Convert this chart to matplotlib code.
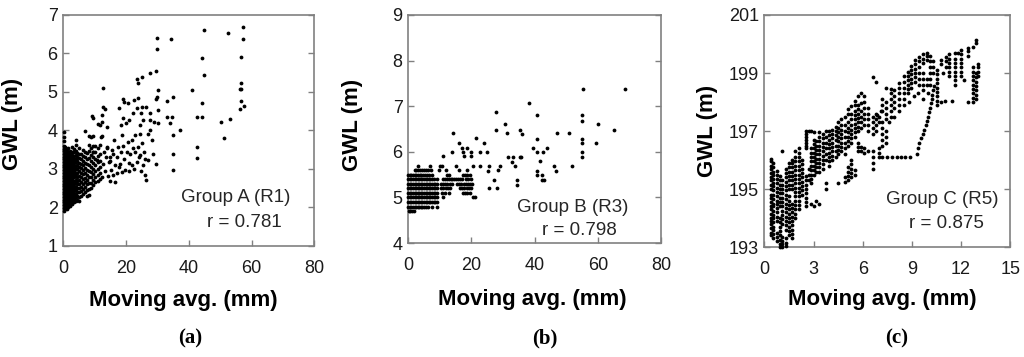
import matplotlib.pyplot as plt

plt.rcParams["font.family"] = ["Liberation Sans", "DejaVu Sans"]

# ---------------- (a) Group A (R1) ----------------
# dense part: (moving avg, [GWL values]) read column by column
a_cols = [
    (0.1, [1.92, 1.99, 2.06, 2.13, 2.2, 2.27, 2.34, 2.41, 2.48, 2.55, 2.62, 2.69, 2.76, 2.83,
           2.9, 2.97, 3.04, 3.11, 3.18, 3.25, 3.32, 3.39, 3.46, 3.53, 3.6, 3.72, 3.84, 3.97]),
    (0.6, [1.95, 2.02, 2.09, 2.16, 2.23, 2.3, 2.37, 2.44, 2.51, 2.58, 2.65, 2.72, 2.79, 2.86,
           2.93, 3.0, 3.07, 3.14, 3.21, 3.28, 3.35, 3.42, 3.5, 3.58]),
    (1.1, [1.97, 2.04, 2.11, 2.18, 2.25, 2.32, 2.39, 2.46, 2.53, 2.6, 2.67, 2.74, 2.81, 2.88,
           2.95, 3.02, 3.09, 3.16, 3.23, 3.3, 3.37, 3.45, 3.52]),
    (1.6, [2.02, 2.09, 2.16, 2.23, 2.3, 2.37, 2.44, 2.51, 2.58, 2.65, 2.72, 2.79, 2.86, 2.93,
           3.0, 3.07, 3.14, 3.21, 3.28, 3.36, 3.44, 3.55]),
    (2.1, [2.05, 2.12, 2.19, 2.26, 2.33, 2.4, 2.47, 2.54, 2.61, 2.68, 2.75, 2.82, 2.89, 2.96,
           3.03, 3.1, 3.17, 3.24, 3.31, 3.4, 3.48]),
    (2.7, [2.1, 2.17, 2.24, 2.31, 2.38, 2.45, 2.52, 2.59, 2.66, 2.73, 2.8, 2.87, 2.94, 3.01,
           3.08, 3.15, 3.22, 3.29, 3.36, 3.45, 3.56]),
    (3.3, [2.14, 2.22, 2.3, 2.38, 2.46, 2.54, 2.62, 2.7, 2.78, 2.86, 2.94, 3.02, 3.1, 3.18,
           3.26, 3.34, 3.44, 3.52]),
    (3.9, [2.18, 2.27, 2.36, 2.45, 2.54, 2.63, 2.72, 2.81, 2.9, 2.99, 3.08, 3.17, 3.26, 3.36,
           3.48, 3.62, 3.76]),
    (4.5, [2.2, 2.3, 2.4, 2.5, 2.6, 2.7, 2.8, 2.9, 3.0, 3.1, 3.2, 3.3, 3.42]),
    (5.1, [2.17, 2.28, 2.39, 2.5, 2.61, 2.72, 2.83, 2.94, 3.05, 3.16, 3.28, 3.4, 3.55]),
    (5.7, [2.3, 2.42, 2.54, 2.66, 2.78, 2.9, 3.02, 3.14, 3.26, 3.38]),
    (6.3, [2.35, 2.48, 2.6, 2.73, 2.86, 2.98, 3.1, 3.22, 3.35, 3.5]),
    (6.9, [2.4, 2.52, 2.65, 2.77, 2.9, 3.03, 3.16, 3.3, 3.45, 3.98]),
    (7.5, [2.3, 2.45, 2.6, 2.72, 2.85, 2.98, 3.12, 3.25, 3.42]),
    (8.1, [2.32, 2.48, 2.63, 2.8, 2.95, 3.1, 3.28, 3.48, 3.62, 3.85]),
    (8.7, [2.5, 2.63, 2.78, 2.92, 3.06, 3.2, 3.36, 3.55, 3.82]),
    (9.4, [2.58, 2.72, 2.86, 3.0, 3.15, 3.3, 3.45, 3.6, 3.86]),
    (10.2, [2.65, 2.8, 2.95, 3.1, 3.25, 3.45, 3.6]),
    (11.0, [2.7, 2.85, 3.0, 3.18, 3.35, 3.55, 4.18]),
    (11.8, [2.75, 2.9, 3.05, 3.22, 3.4, 3.62, 4.14]),
]
# scattered points
a_x = [44.9, 52.6, 57.4, 57.4, 44.3, 56.5, 44.9, 56.5, 56.3, 56.8,
       40.9, 44.3, 56.8, 57.7, 56.3, 42.7, 44.3, 50.3, 53.1, 51.3,
       42.7, 42.7, 29.8, 34.3, 29.8, 29.4, 27.6, 25.0, 23.4, 23.9,
       12.8, 30.3, 19.1, 19.4, 22.5, 23.9, 35.1, 33.2, 29.8, 29.4,
       17.9, 20.5, 23.6, 26.4, 27.6, 25.2, 30.3, 12.8, 13.3, 9.0,
       9.4, 12.5, 12.5, 19.1, 20.9, 22.3, 24.9, 27.6, 30.3, 33.2,
       34.8, 34.0, 13.8, 20.0, 37.2, 35.1, 35.1, 35.1, 29.4, 28.5,
       28.2, 29.0, 24.4, 25.5, 18.4,
       12.5, 12.8, 13.0, 13.3, 13.6, 13.8, 14.1, 14.5, 14.9, 14.9,
       15.3, 15.6, 15.9, 15.9, 16.4, 16.6, 17.0, 17.2, 17.5, 17.8,
       18.1, 18.4, 18.6, 18.8, 19.2, 19.7, 20.2, 20.5, 20.8, 21.3,
       21.8, 21.8, 22.3, 22.8, 22.5, 23.4, 23.9, 24.1, 24.4, 24.7,
       25.0, 25.5, 25.8, 26.0, 26.4, 26.2, 27.1, 27.1, 27.6, 12.5,
       16.2, 19.0, 21.0, 23.0, 24.5, 11.9, 10.6, 9.6, 14.0, 15.0]
a_y = [6.61, 6.54, 6.70, 6.37, 5.87, 5.90, 5.44, 5.23, 5.08, 5.08,
       5.05, 4.72, 4.77, 4.64, 4.56, 4.36, 4.36, 4.23, 4.30, 3.81,
       3.58, 3.29, 6.39, 6.37, 6.11, 5.55, 5.50, 5.40, 5.35, 5.24,
       5.10, 5.05, 4.81, 4.75, 4.79, 4.84, 4.88, 4.77, 4.86, 4.81,
       4.58, 4.71, 4.58, 4.62, 4.45, 4.62, 4.52, 4.62, 4.55, 4.38,
       4.32, 4.39, 4.23, 4.32, 4.27, 4.45, 4.46, 4.26, 4.20, 4.36,
       4.36, 4.19, 4.08, 4.19, 4.01, 3.88, 3.40, 2.97, 3.14, 3.40,
       3.75, 4.22, 4.14, 4.27, 4.14,
       2.78, 3.12, 3.45, 2.95, 3.30, 3.58, 2.82, 3.18, 3.32, 2.70,
       2.98, 3.50, 3.40, 2.84, 2.66, 3.10, 2.90, 3.30, 3.58, 3.05,
       3.14, 3.45, 3.88, 2.92, 3.25, 2.97, 3.45, 3.70, 3.15, 3.40,
       3.10, 3.75, 3.55, 3.88, 3.00, 3.19, 3.58, 3.30, 3.36, 2.95,
       3.68, 3.10, 3.45, 2.84, 2.71, 3.25, 3.23, 3.92, 4.01, 3.85,
       3.75, 3.60, 2.95, 3.45, 3.90, 3.84, 3.23, 3.45, 3.55, 3.22]

# ---------------- (b) Group B (R3) ----------------
# dense band: (GWL level, [moving avg values]) read row by row
b_rows = [
    (5.7, [3.0, 6.9, 10.0, 10.6]),
    (5.6, [2.0, 2.6, 3.2, 3.8, 4.5, 5.1, 5.7, 6.4, 7.3, 9.6, 11.9, 16.1, 18.6]),
    (5.5, [0.0, 0.5, 1.0, 1.5, 2.0, 2.5, 3.0, 3.6, 4.1, 4.7, 5.3, 5.9, 6.6, 7.4,
           12.2, 12.9, 17.3, 17.9, 18.6, 19.4]),
    (5.4, [0.0, 0.5, 1.0, 1.5, 2.0, 2.5, 3.0, 3.5, 4.0, 4.5, 5.0, 5.5, 6.0, 6.5, 7.0, 7.6,
           8.3, 9.1, 11.0, 11.6, 12.2, 12.8, 13.4, 14.0, 14.6, 15.2, 15.8, 16.4, 17.0,
           18.3, 19.0, 19.7]),
    (5.3, [0.0, 0.5, 1.0, 1.5, 2.0, 2.5, 3.0, 3.5, 4.0, 4.5, 5.0, 5.5, 6.0, 6.5, 7.0, 7.5,
           8.0, 8.5, 9.0, 10.3, 11.0, 11.7, 12.4, 13.1, 13.8, 15.4, 16.1, 16.8, 17.5,
           18.2, 18.9, 19.6, 20.3]),
    (5.2, [0.0, 0.5, 1.0, 1.5, 2.0, 2.5, 3.0, 3.5, 4.0, 4.5, 5.0, 5.5, 6.0, 6.5, 7.0, 7.5,
           8.0, 8.5, 9.0, 10.4, 11.1, 11.8, 12.5, 13.2, 16.4, 17.1, 17.8, 18.5, 19.2, 19.9]),
    (5.1, [0.0, 0.5, 1.0, 1.5, 2.0, 2.5, 3.0, 3.5, 4.0, 4.5, 5.0, 5.5, 6.0, 6.5, 7.0, 7.5,
           8.0, 8.5, 9.0, 10.6, 11.5, 13.0, 17.2, 17.9, 18.6, 19.4]),
    (5.0, [0.0, 0.5, 1.0, 1.5, 2.0, 2.5, 3.0, 3.5, 4.0, 4.5, 5.0, 5.5, 6.0, 6.5, 7.0, 7.5,
           8.0, 8.5, 9.0, 11.0, 20.6, 21.0]),
    (4.9, [0.0, 0.5, 1.0, 1.5, 2.0, 2.5, 3.0, 3.5, 4.0, 4.5, 5.0, 5.5, 6.0, 6.5, 7.0, 7.5,
           8.0, 8.6, 9.2]),
    (4.8, [0.0, 0.5, 1.0, 1.5, 2.0, 2.5, 3.0, 3.5, 4.0, 4.5, 5.0, 5.5, 6.2, 7.4, 9.0]),
    (4.7, [0.1, 0.6, 1.1, 1.9]),
]
b_x = [55.4, 68.5, 38.3, 27.7, 40.8, 54.9, 55.1, 30.6, 60.0, 27.7,
       35.3, 35.9, 65.1, 14.2, 31.3, 47.2, 50.8, 21.4, 40.8, 54.9,
       55.1, 59.4, 16.1, 24.0, 24.8, 39.6, 44.0, 16.9, 18.5, 17.4,
       19.7, 13.7, 20.0, 17.7, 11.1, 31.6, 33.2, 32.7, 35.7, 35.3,
       40.8, 42.7, 54.9, 54.9, 41.6, 46.1, 46.9, 51.8, 40.8, 40.8,
       42.2, 42.2, 42.9, 15.0, 22.7, 25.3, 29.0, 28.5, 33.8, 34.3,
       34.3, 25.6, 28.2, 20.4, 25.6, 27.1, 22.7]
b_y = [7.37, 7.37, 7.08, 6.88, 6.80, 6.80, 6.67, 6.60, 6.61, 6.48,
       6.48, 6.39, 6.48, 6.41, 6.41, 6.41, 6.41, 6.30, 6.29, 6.29,
       6.20, 6.20, 6.20, 6.19, 5.99, 6.08, 6.08, 6.08, 6.08, 5.99,
       5.90, 5.99, 5.99, 5.90, 5.90, 5.88, 5.88, 5.78, 5.88, 5.89,
       5.99, 5.99, 5.99, 5.89, 5.79, 5.69, 5.59, 5.69, 5.59, 5.49,
       5.49, 5.39, 5.39, 5.68, 5.70, 5.57, 5.70, 5.61, 5.70, 5.39,
       5.28, 5.20, 5.20, 5.68, 5.70, 5.39, 5.99]

# ---------------- (c) Group C (R5) ----------------
c_cols = [
    (0.40, [193.4, 193.5, 193.65, 193.8, 193.9, 194.0, 194.15, 194.3, 194.4, 194.55, 194.7,
            194.8, 195.0, 195.15, 195.3, 195.4, 195.55, 195.7, 195.8, 195.95, 196.05]),
    (0.55, [193.3, 193.45, 193.6, 193.7, 193.85, 194.0, 194.1, 194.25, 194.4, 194.5, 194.65,
            194.8, 194.95, 195.1, 195.2, 195.35, 195.5, 195.6, 195.75, 195.9]),
    (0.75, [193.2, 193.35, 193.5, 193.9, 194.05, 194.2, 194.35, 194.5, 194.6, 194.75, 194.9,
            195.05, 195.2, 195.35, 195.5, 195.62]),
    (0.95, [193.0, 193.1, 193.25, 193.4, 193.55, 193.7, 193.85, 194.0, 194.4, 194.55, 194.7,
            194.85, 195.0, 195.15, 195.3, 195.45]),
    (1.10, [193.0, 193.1, 193.2, 193.35, 193.8, 193.95, 194.1, 194.25, 194.4, 194.55, 194.7,
            194.85, 195.0, 195.15, 195.3, 196.3]),
    (1.30, [193.05, 193.15, 193.3, 193.6, 193.75, 193.9, 194.05, 194.2, 194.35, 194.5,
            194.65, 194.8, 194.95, 195.1, 195.25, 195.4, 195.55, 195.7]),
    (1.50, [193.4, 193.55, 193.7, 193.85, 194.0, 194.15, 194.3, 194.45, 194.6, 194.75, 195.0,
            195.15, 195.3, 195.45, 195.6, 195.75, 195.9]),
    (1.70, [193.3, 193.45, 193.6, 193.75, 193.9, 194.05, 194.2, 194.35, 194.5, 195.0, 195.15,
            195.3, 195.45, 195.6, 195.75, 195.9, 196.0]),
    (1.90, [194.0, 194.15, 194.3, 194.45, 194.6, 194.75, 194.9, 195.05, 195.2, 195.35, 195.5,
            195.65, 195.8, 195.95, 196.1, 196.3]),
    (2.10, [194.3, 194.45, 194.6, 194.75, 194.9, 195.05, 195.2, 195.35, 195.5, 195.65, 195.8,
            195.95, 196.1, 196.25, 196.4]),
    (2.30, [194.8, 194.95, 195.1, 195.25, 195.4, 195.55, 195.7, 195.85, 196.0]),
    (2.55, [194.4, 194.55, 194.7, 194.85, 195.0, 195.15, 195.3, 195.45, 196.4, 196.5, 196.6,
            196.7, 196.8, 196.9, 197.0]),
    (2.70, [197.0, 195.3, 195.5, 195.7]),
    (2.85, [197.0, 194.5, 195.2, 195.35, 195.5, 195.65, 195.8, 195.95, 196.1, 196.25, 196.4]),
    (3.00, [196.95, 194.4, 195.5, 195.65, 195.8, 195.95, 196.1, 196.25, 196.4, 196.55, 196.7]),
    (3.15, [194.6, 195.6, 195.75, 195.9, 196.05, 196.2, 196.35, 196.5, 196.65]),
    (3.35, [194.5, 195.6, 195.75, 195.9, 196.05, 196.2, 196.35, 196.5, 196.65, 196.8, 196.95]),
    (3.60, [195.7, 195.85, 196.0, 196.15, 196.3, 196.45, 196.6, 196.75, 196.9]),
    (3.75, [195.0, 195.2, 196.0, 196.2, 196.4, 196.6, 196.8, 197.0]),
    (3.95, [195.8, 195.95, 196.1, 196.25, 196.4, 196.55, 196.7, 196.85, 197.0]),
    (4.15, [196.0, 196.15, 196.3, 196.45, 196.6, 196.75, 196.9, 197.05]),
    (4.35, [196.1, 196.3, 196.5, 196.7, 196.85, 197.0, 197.15]),
    (4.50, [195.2, 196.2, 196.35, 196.5, 196.65, 196.8, 196.95, 197.1, 197.3]),
    (4.70, [196.3, 196.45, 196.6, 196.75, 196.9, 197.05, 197.2, 197.4]),
    (4.90, [195.25, 195.4, 196.2, 196.4, 196.6, 196.8, 197.0, 197.2, 197.5]),
    (5.10, [195.3, 195.45, 195.6, 195.75, 196.5, 196.65, 196.8, 196.95, 197.1, 197.3, 197.6,
            197.75]),
    (5.30, [195.4, 195.55, 195.7, 195.85, 196.0, 196.6, 196.75, 196.9, 197.05, 197.2, 197.4,
            197.6, 197.85]),
    (5.50, [195.5, 195.65, 196.8, 196.95, 197.1, 197.25, 197.4, 197.55, 197.7, 197.9, 198.05]),
    (5.70, [196.3, 196.45, 196.6, 197.0, 197.15, 197.3, 197.45, 197.6, 197.75, 197.9, 198.2]),
    (5.90, [196.3, 196.45, 197.1, 197.3, 197.5, 197.7, 197.95, 198.3]),
    (6.10, [196.25, 196.4, 197.2, 197.4, 197.6, 197.8, 198.0, 198.2]),
    (6.35, [196.3, 197.0, 197.2, 197.4, 197.6, 197.8]),
    (6.60, [195.7, 195.9, 196.1, 196.3, 196.9, 197.1, 197.3, 197.5, 198.85]),
    (6.80, [197.0, 197.2, 197.4, 197.6, 198.7]),
    (7.00, [196.1, 196.25, 196.4, 197.3, 197.5]),
    (7.20, [196.5, 196.7, 196.9, 197.1, 197.3, 197.7, 197.9, 198.1]),
    (7.40, [196.6, 196.8, 197.0, 197.4, 197.6, 197.8, 198.0, 198.5]),
    (7.70, [197.5, 197.7, 197.9, 198.1, 198.3, 198.45]),
    (7.90, [197.8, 198.0, 198.2, 198.4]),
    (8.20, [197.9, 198.1, 198.3, 198.5, 198.65]),
    (8.50, [198.1, 198.3, 198.5, 198.7, 198.9]),
    (8.75, [198.3, 198.45, 198.6, 198.75, 198.9, 199.05]),
    (8.95, [198.5, 198.65, 198.8, 198.95, 199.1, 199.25]),
    (9.20, [198.7, 198.85, 199.0, 199.15, 199.3, 199.45]),
    (9.45, [198.6, 198.8, 199.0, 199.2, 199.4, 199.55]),
    (9.70, [198.4, 198.6, 198.8, 199.0, 199.35, 199.5, 199.65]),
    (9.90, [198.6, 198.8, 199.45, 199.6, 199.7]),
    (10.10, [198.6, 198.8, 199.0, 199.2, 199.4, 199.6]),
    (10.30, [199.0, 199.2, 199.4]),
    (10.55, [197.9, 198.05, 198.2, 198.35, 198.5, 198.65, 198.8, 198.95, 199.1]),
    (10.80, [198.0, 199.3, 199.45]),
    (11.05, [199.4, 199.55]),
    (11.26, [198.9, 199.05, 199.2, 199.35, 199.5, 199.65]),
    (11.45, [198.05]),
    (11.60, [198.6, 198.75, 198.9, 199.05, 199.2, 199.35, 199.5, 199.7]),
    (11.80, [199.7]),
    (12.00, [198.9, 199.05, 199.2, 199.35, 199.5, 199.65, 199.8]),
    (12.15, [198.75]),
    (12.45, [198.0, 199.6, 199.75, 199.85]),
    (12.70, [198.0, 198.15, 198.3, 198.45, 198.6, 198.75, 198.9, 199.05, 199.2, 199.9]),
    (12.90, [198.1, 198.25, 198.4, 198.55, 198.7, 198.85, 199.0, 200.05, 200.15]),
    (13.05, [198.9, 199.05, 199.2, 199.3]),
]
c_x = [7.2, 7.5, 7.8, 8.1, 8.35, 8.6, 8.9, 9.3, 9.35, 9.45,
       9.55, 9.65, 9.75, 9.85, 9.95, 10.0, 10.05, 10.1, 10.15, 10.2,
       10.25, 10.3, 10.35, 6.9, 7.1, 7.6, 7.9, 8.2, 8.5, 8.8,
       9.1, 9.4, 9.7, 10.0, 11.0, 10.9, 11.1]
c_y = [196.1, 196.1, 196.1, 196.12, 196.1, 196.1, 196.12, 196.2, 196.4, 196.6,
       196.75, 196.9, 197.05, 197.2, 197.35, 197.5, 197.65, 197.8, 197.95, 198.1,
       198.25, 198.4, 198.55, 197.55, 197.7, 197.3, 197.5, 197.7, 197.9, 198.0,
       198.2, 198.3, 198.1, 198.3, 198.05, 199.0, 199.2]


def from_cols(cols, xs, ys):
    px, py = list(xs), list(ys)
    for x, yl in cols:
        px += [x] * len(yl)
        py += yl
    return px, py


def from_rows(rows, xs, ys):
    px, py = list(xs), list(ys)
    for y, xl in rows:
        px += xl
        py += [y] * len(xl)
    return px, py


panels = [
    dict(pts=from_cols(a_cols, a_x, a_y), rect=[0.0618, 0.311, 0.2451, 0.647],
         xlim=(0, 80), xticks=range(0, 81, 20), ylim=(1, 7), yticks=range(1, 8),
         name="Group A (R1)", r="r = 0.781", tpos=((72.3, 2.27), (69.7, 1.62)),
         ylab=(-0.159, 0.528), xlab=(0.477, -0.19), letter="(a)", lx=0.1855),
    dict(pts=from_rows(b_rows, b_x, b_y), rect=[0.3987, 0.319, 0.2468, 0.639],
         xlim=(0, 80), xticks=range(0, 81, 20), ylim=(4, 9), yticks=range(4, 10),
         name="Group B (R3)", r="r = 0.798", tpos=((69.6, 4.77), (66.0, 4.28)),
         ylab=(-0.178, 0.52), xlab=(0.489, -0.2), letter="(b)", lx=0.532),
    dict(pts=from_cols(c_cols, c_x, c_y), rect=[0.7464, 0.308, 0.2402, 0.650],
         xlim=(0, 15), xticks=range(0, 16, 3), ylim=(193, 201), yticks=range(193, 202, 2),
         name="Group C (R5)", r="r = 0.875", tpos=((14.29, 194.64), (13.37, 193.81)),
         ylab=(-0.187, 0.5), xlab=(0.48, -0.18), letter="(c)", lx=0.876),
]

fig = plt.figure(figsize=(10.24, 3.57), dpi=100)

for p in panels:
    ax = fig.add_axes(p["rect"])
    x, y = p["pts"]
    ax.scatter(x, y, s=7.5, c="black", linewidths=0, clip_on=False, zorder=3)
    ax.set_xlim(p["xlim"])
    ax.set_ylim(p["ylim"])
    ax.set_xticks(list(p["xticks"]))
    ax.set_yticks(list(p["yticks"]))
    for s in ax.spines.values():
        s.set_color("#808080")
        s.set_linewidth(1.2)
    ax.tick_params(direction="in", length=4.5, width=1.0, color="#808080",
                   labelsize=13, right=True, labelcolor="#1a1a1a")
    ax.tick_params(axis="x", pad=10)
    ax.tick_params(axis="y", pad=4)
    ax.set_xlabel("Moving avg. (mm)", fontsize=16, fontweight="bold")
    ax.set_ylabel("GWL (m)", fontsize=16, fontweight="bold")
    ax.xaxis.set_label_coords(*p["xlab"])
    ax.yaxis.set_label_coords(*p["ylab"])
    (nx, ny), (rx, ry) = p["tpos"]
    ax.text(nx, ny, p["name"], fontsize=13.5, ha="right", va="center", color="#262626")
    ax.text(rx, ry, p["r"], fontsize=13.5, ha="right", va="center", color="#262626")
    fig.text(p["lx"], 1 - 338 / 357, p["letter"], family="Liberation Serif",
             fontweight="bold", fontsize=15, ha="center", va="center")

fig.savefig("out.png", dpi=100)
